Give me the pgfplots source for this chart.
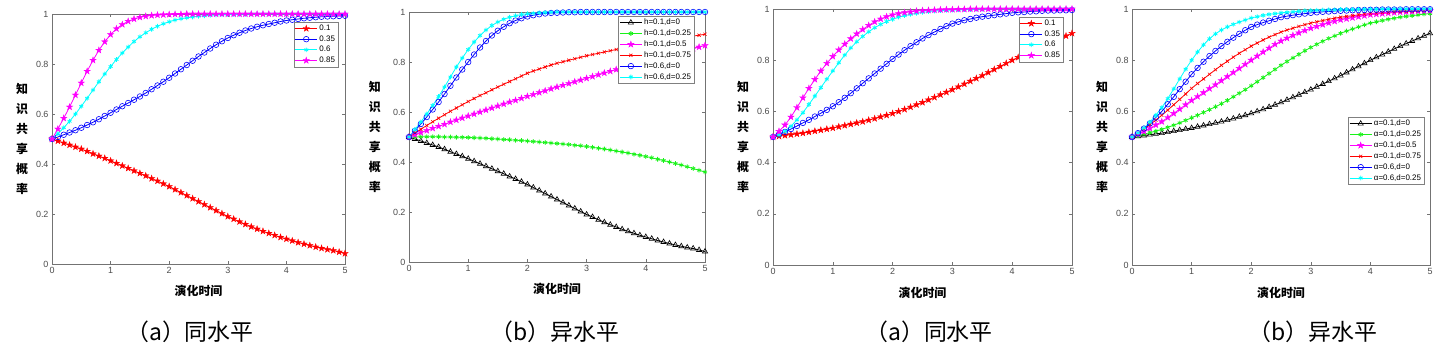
\documentclass[border=0pt]{standalone}
\usepackage{pgfplots}
\pgfplotsset{compat=1.18}
\usepackage{pgfplotstable}
\usepackage{fontspec}
\setmainfont{Liberation Sans}
\newfontfamily\cjk{Noto Sans CJK SC}
\definecolor{mred}{rgb}{1,0,0}
\definecolor{mblue}{rgb}{0,0,1}
\definecolor{mcyan}{rgb}{0,1,1}
\definecolor{mmag}{rgb}{1,0,1}
\definecolor{mgreen}{rgb}{0.1,0.95,0.1}

\pgfdeclareplotmark{pent}{%
  \pgfpathmoveto{\pgfpoint{0pt}{\pgfplotmarksize}}%
  \pgfpathlineto{\pgfpoint{-0.2245\pgfplotmarksize}{0.309\pgfplotmarksize}}%
  \pgfpathlineto{\pgfpoint{-0.951\pgfplotmarksize}{0.309\pgfplotmarksize}}%
  \pgfpathlineto{\pgfpoint{-0.363\pgfplotmarksize}{-0.118\pgfplotmarksize}}%
  \pgfpathlineto{\pgfpoint{-0.588\pgfplotmarksize}{-0.809\pgfplotmarksize}}%
  \pgfpathlineto{\pgfpoint{0pt}{-0.382\pgfplotmarksize}}%
  \pgfpathlineto{\pgfpoint{0.588\pgfplotmarksize}{-0.809\pgfplotmarksize}}%
  \pgfpathlineto{\pgfpoint{0.363\pgfplotmarksize}{-0.118\pgfplotmarksize}}%
  \pgfpathlineto{\pgfpoint{0.951\pgfplotmarksize}{0.309\pgfplotmarksize}}%
  \pgfpathlineto{\pgfpoint{0.2245\pgfplotmarksize}{0.309\pgfplotmarksize}}%
  \pgfpathclose
  \pgfusepathqfillstroke}

\pgfplotstableread{
t r b c m
0.0 .500 .500 .500 .500
0.1 .492 .508 .521 .540
0.2 .484 .517 .545 .583
0.3 .476 .526 .571 .628
0.4 .468 .535 .600 .676
0.5 .460 .545 .631 .724
0.6 .451 .556 .663 .771
0.7 .441 .567 .696 .815
0.8 .432 .579 .729 .855
0.9 .423 .592 .760 .889
1.0 .413 .605 .790 .918
1.1 .403 .618 .818 .941
1.2 .393 .631 .844 .958
1.3 .383 .644 .868 .971
1.4 .373 .657 .890 .980
1.5 .363 .670 .909 .987
1.6 .353 .684 .925 .991
1.7 .342 .699 .939 .994
1.8 .332 .714 .951 .996
1.9 .321 .729 .961 .997
2.0 .310 .745 .969 .998
2.1 .298 .762 .976 .999
2.2 .286 .779 .981 .999
2.3 .274 .796 .985 1.000
2.4 .262 .813 .988 1.000
2.5 .250 .830 .991 1.000
2.6 .238 .846 .993 1.000
2.7 .226 .862 .995 1.000
2.8 .214 .877 .996 1.000
2.9 .202 .891 .997 1.000
3.0 .190 .904 .998 1.000
3.1 .180 .915 .998 1.000
3.2 .169 .925 .999 1.000
3.3 .159 .934 .999 1.000
3.4 .149 .942 1.000 1.000
3.5 .140 .949 1.000 1.000
3.6 .131 .955 1.000 1.000
3.7 .123 .960 1.000 1.000
3.8 .115 .965 1.000 1.000
3.9 .107 .970 1.000 1.000
4.0 .100 .974 1.000 1.000
4.1 .093 .977 1.000 1.000
4.2 .086 .980 1.000 1.000
4.3 .080 .983 1.000 1.000
4.4 .074 .985 1.000 1.000
4.5 .068 .987 1.000 1.000
4.6 .063 .989 1.000 1.000
4.7 .058 .990 1.000 1.000
4.8 .054 .991 1.000 1.000
4.9 .048 .992 1.000 1.000
5.0 .042 .993 1.000 1.000
}\tabA

\pgfplotstableread{
t k g m r b c
0.0 .500 .500 .500 .500 .500 .500
0.1 .492 .500 .509 .516 .525 .530
0.2 .484 .501 .518 .531 .552 .560
0.3 .476 .501 .526 .546 .580 .592
0.4 .468 .501 .535 .561 .610 .626
0.5 .460 .501 .543 .575 .640 .662
0.6 .451 .500 .551 .589 .672 .700
0.7 .441 .500 .560 .603 .705 .740
0.8 .432 .499 .568 .616 .738 .780
0.9 .423 .499 .576 .629 .770 .816
1.0 .413 .498 .584 .642 .800 .850
1.1 .403 .497 .592 .654 .830 .880
1.2 .393 .496 .600 .666 .858 .906
1.3 .383 .495 .608 .677 .884 .928
1.4 .373 .493 .616 .689 .906 .946
1.5 .363 .492 .624 .700 .925 .960
1.6 .353 .490 .632 .711 .941 .971
1.7 .342 .489 .640 .722 .955 .979
1.8 .332 .487 .647 .733 .966 .985
1.9 .321 .486 .655 .744 .975 .990
2.0 .310 .484 .663 .755 .982 .993
2.1 .298 .482 .670 .764 .987 .995
2.2 .286 .480 .678 .772 .991 .997
2.3 .274 .478 .685 .780 .994 .998
2.4 .262 .476 .693 .788 .996 .999
2.5 .250 .474 .700 .795 .997 1.000
2.6 .238 .472 .707 .801 .998 1.000
2.7 .226 .470 .714 .807 .999 1.000
2.8 .214 .467 .721 .813 .999 1.000
2.9 .202 .465 .728 .819 1.000 1.000
3.0 .190 .462 .735 .825 1.000 1.000
3.1 .180 .459 .742 .830 1.000 1.000
3.2 .169 .455 .749 .835 1.000 1.000
3.3 .159 .452 .756 .840 1.000 1.000
3.4 .149 .448 .763 .845 1.000 1.000
3.5 .140 .444 .770 .850 1.000 1.000
3.6 .131 .440 .776 .855 1.000 1.000
3.7 .123 .436 .782 .859 1.000 1.000
3.8 .115 .431 .788 .864 1.000 1.000
3.9 .107 .427 .794 .868 1.000 1.000
4.0 .100 .422 .800 .873 1.000 1.000
4.1 .093 .417 .807 .877 1.000 1.000
4.2 .086 .411 .814 .881 1.000 1.000
4.3 .080 .406 .821 .885 1.000 1.000
4.4 .074 .400 .828 .889 1.000 1.000
4.5 .068 .394 .835 .893 1.000 1.000
4.6 .063 .388 .841 .897 1.000 1.000
4.7 .058 .381 .847 .900 1.000 1.000
4.8 .054 .374 .854 .904 1.000 1.000
4.9 .048 .367 .860 .907 1.000 1.000
5.0 .042 .360 .866 .911 1.000 1.000
}\tabB

\pgfplotstableread{
t r b c m
0.0 .500 .500 .500 .500
0.1 .503 .510 .508 .522
0.2 .506 .520 .522 .547
0.3 .509 .531 .542 .578
0.4 .512 .543 .567 .615
0.5 .515 .555 .595 .653
0.6 .519 .567 .627 .690
0.7 .523 .580 .660 .725
0.8 .527 .593 .693 .758
0.9 .531 .606 .726 .788
1.0 .535 .620 .758 .815
1.1 .540 .636 .790 .840
1.2 .545 .653 .820 .863
1.3 .550 .671 .848 .884
1.4 .555 .690 .872 .903
1.5 .560 .710 .893 .920
1.6 .566 .729 .911 .936
1.7 .572 .748 .927 .950
1.8 .579 .767 .940 .961
1.9 .585 .786 .951 .970
2.0 .592 .805 .960 .977
2.1 .600 .822 .968 .982
2.2 .608 .839 .974 .986
2.3 .617 .855 .979 .989
2.4 .626 .870 .983 .992
2.5 .635 .885 .987 .994
2.6 .645 .898 .990 .995
2.7 .655 .910 .992 .996
2.8 .665 .922 .994 .997
2.9 .675 .933 .995 .998
3.0 .685 .943 .996 .998
3.1 .696 .950 .997 .999
3.2 .707 .956 .998 .999
3.3 .718 .961 .998 1.000
3.4 .729 .966 .999 1.000
3.5 .740 .970 .999 1.000
3.6 .752 .973 1.000 1.000
3.7 .764 .976 1.000 1.000
3.8 .776 .979 1.000 1.000
3.9 .788 .982 1.000 1.000
4.0 .800 .985 1.000 1.000
4.1 .811 .987 1.000 1.000
4.2 .822 .988 1.000 1.000
4.3 .833 .990 1.000 1.000
4.4 .844 .991 1.000 1.000
4.5 .855 .993 1.000 1.000
4.6 .865 .994 1.000 1.000
4.7 .875 .994 1.000 1.000
4.8 .885 .995 1.000 1.000
4.9 .895 .995 1.000 1.000
5.0 .905 .996 1.000 1.000
}\tabC

\pgfplotstableread{
t k g m r b c
0.0 .500 .500 .500 .500 .500 .500
0.1 .503 .505 .511 .515 .515 .516
0.2 .506 .511 .522 .531 .533 .535
0.3 .509 .517 .534 .548 .553 .558
0.4 .512 .523 .547 .566 .576 .585
0.5 .515 .530 .560 .585 .600 .615
0.6 .519 .538 .576 .605 .628 .650
0.7 .523 .546 .592 .626 .657 .688
0.8 .527 .555 .609 .647 .687 .727
0.9 .531 .565 .626 .668 .716 .765
1.0 .535 .575 .643 .690 .745 .800
1.1 .540 .585 .658 .709 .770 .832
1.2 .545 .596 .673 .727 .794 .860
1.3 .550 .607 .689 .745 .816 .884
1.4 .555 .618 .704 .763 .836 .903
1.5 .560 .630 .720 .780 .855 .918
1.6 .566 .643 .736 .796 .872 .930
1.7 .572 .657 .752 .812 .888 .940
1.8 .579 .671 .768 .827 .903 .949
1.9 .585 .685 .784 .841 .917 .957
2.0 .592 .700 .800 .855 .930 .965
2.1 .600 .716 .816 .867 .939 .970
2.2 .608 .732 .832 .879 .947 .975
2.3 .617 .748 .847 .890 .954 .979
2.4 .626 .764 .862 .900 .961 .982
2.5 .635 .780 .875 .910 .968 .985
2.6 .645 .795 .886 .918 .972 .987
2.7 .655 .809 .897 .925 .976 .989
2.8 .665 .823 .907 .932 .979 .991
2.9 .675 .837 .916 .939 .982 .993
3.0 .685 .850 .925 .945 .985 .994
3.1 .696 .862 .932 .950 .987 .995
3.2 .707 .874 .939 .955 .989 .996
3.3 .718 .885 .946 .960 .990 .997
3.4 .729 .895 .952 .964 .992 .997
3.5 .740 .905 .958 .968 .993 .998
3.6 .752 .914 .962 .971 .994 .998
3.7 .764 .922 .966 .974 .995 .998
3.8 .776 .930 .970 .977 .996 .999
3.9 .788 .938 .974 .980 .996 .999
4.0 .800 .945 .978 .982 .997 .999
4.1 .811 .950 .980 .984 .997 .999
4.2 .822 .955 .982 .986 .998 1.000
4.3 .833 .960 .984 .987 .998 1.000
4.4 .844 .964 .986 .989 .998 1.000
4.5 .855 .968 .988 .990 .998 1.000
4.6 .865 .971 .989 .991 .999 1.000
4.7 .875 .974 .990 .992 .999 1.000
4.8 .885 .977 .992 .993 .999 1.000
4.9 .895 .980 .993 .994 .999 1.000
5.0 .905 .982 .994 .995 .999 1.000
}\tabD

\pgfplotsset{
  panel/.style={
    scale only axis,
    xmin=0, xmax=5, ymin=0, ymax=1,
    xtick={0,1,2,3,4,5}, ytick={0,0.2,0.4,0.6,0.8,1},
    tick align=inside, major tick length=3bp,
    axis line style={black!55}, every tick/.style={black!55},
    tick label style={font=\fontsize{9}{10}\selectfont, text=black!70},
    /pgf/number format/assume math mode=true,
    xlabel={演化时间},
    xlabel style={font=\cjk\bfseries\fontsize{12}{12}\selectfont, at={(axis description cs:0.5,-0.108)}, anchor=center},
    ylabel={知\\识\\共\\享\\概\\率},
    ylabel style={rotate=-90, align=center, font=\cjk\bfseries\fontsize{12}{20}\selectfont, anchor=center},
    legend style={font=\fontsize{8}{9}\selectfont, draw=black!50, inner sep=1bp, nodes={inner sep=1.8bp}, row sep=0bp, cells={anchor=west}},
    legend image code/.code={\draw[mark repeat=2,mark phase=2,##1] plot coordinates {(0bp,0bp)(11bp,0bp)(22bp,0bp)};},
    every axis plot/.append style={line width=0.8bp},
  },
  sred/.style={color=mred, mark=pent, mark size=3.3bp, mark options={solid, fill=mred, line width=0.4bp}},
  smag/.style={color=mmag, mark=pent, mark size=3.3bp, mark options={solid, fill=mmag, line width=0.4bp}},
  sblue/.style={color=mblue, mark=o, mark size=2.8bp, mark options={solid, line width=0.6bp}},
  scyan/.style={color=mcyan, mark=asterisk, mark size=2.3bp, mark options={solid, line width=0.8bp}},
  sgreen/.style={color=mgreen, mark=asterisk, mark size=2.3bp, mark options={solid, line width=0.8bp}},
  sblack/.style={color=black, mark=triangle, mark size=3bp, mark options={solid, line width=0.6bp}},
  sredx/.style={color=mred, mark=x, mark size=2.2bp, mark options={solid, line width=0.6bp}},
}

\begin{document}
\begin{tikzpicture}
\useasboundingbox (0bp,0bp) rectangle (1434bp,354bp);

% Panel 1
\begin{axis}[panel, at={(52bp,90bp)}, anchor=south west, width=293bp, height=250bp,
  ylabel style={at={(axis description cs:-0.102,0.5)}},
  legend style={at={(rel axis cs:0.976,0.968)}, anchor=north east}]
\addplot[sred] table[x=t,y=r]{\tabA};
\addplot[sblue] table[x=t,y=b]{\tabA};
\addplot[scyan] table[x=t,y=c]{\tabA};
\addplot[smag] table[x=t,y=m]{\tabA};
\legend{0.1,0.35,0.6,0.85}
\end{axis}

% Panel 2
\begin{axis}[panel, at={(409bp,92bp)}, anchor=south west, width=296bp, height=250bp,
  ylabel style={at={(axis description cs:-0.115,0.5)}},
  legend style={at={(rel axis cs:0.963,0.984)}, anchor=north east}]
\addplot[sblack] table[x=t,y=k]{\tabB};
\addplot[sgreen] table[x=t,y=g]{\tabB};
\addplot[smag] table[x=t,y=m]{\tabB};
\addplot[sredx] table[x=t,y=r]{\tabB};
\addplot[sblue] table[x=t,y=b]{\tabB};
\addplot[scyan] table[x=t,y=c]{\tabB};
\legend{{h=0.1,d=0},{h=0.1,d=0.25},{h=0.1,d=0.5},{h=0.1,d=0.75},{h=0.6,d=0},{h=0.6,d=0.25}}
\end{axis}

% Panel 3
\begin{axis}[panel, at={(773bp,89bp)}, anchor=south west, width=299bp, height=256bp,
  ylabel style={at={(axis description cs:-0.100,0.5)}},
  legend style={at={(rel axis cs:0.970,0.969)}, anchor=north east}]
\addplot[sred] table[x=t,y=r]{\tabC};
\addplot[sblue] table[x=t,y=b]{\tabC};
\addplot[scyan] table[x=t,y=c]{\tabC};
\addplot[smag] table[x=t,y=m]{\tabC};
\legend{0.1,0.35,0.6,0.85}
\end{axis}

% Panel 4
\begin{axis}[panel, at={(1132bp,89bp)}, anchor=south west, width=298bp, height=256bp,
  ylabel style={at={(axis description cs:-0.100,0.5)}},
  legend style={at={(rel axis cs:0.980,0.578)}, anchor=north east}]
\addplot[sblack] table[x=t,y=k]{\tabD};
\addplot[sgreen] table[x=t,y=g]{\tabD};
\addplot[smag] table[x=t,y=m]{\tabD};
\addplot[sredx] table[x=t,y=r]{\tabD};
\addplot[sblue] table[x=t,y=b]{\tabD};
\addplot[scyan] table[x=t,y=c]{\tabD};
\legend{{α=0.1,d=0},{α=0.1,d=0.25},{α=0.1,d=0.5},{α=0.1,d=0.75},{α=0.6,d=0},{α=0.6,d=0.25}}
\end{axis}

% Captions
\node[font=\cjk\fontsize{23}{23}\selectfont] at (190bp,22bp) {（a）同水平};
\node[font=\cjk\fontsize{23}{23}\selectfont] at (555bp,22bp) {（b）异水平};
\node[font=\cjk\fontsize{23}{23}\selectfont] at (929bp,22bp) {（a）同水平};
\node[font=\cjk\fontsize{23}{23}\selectfont] at (1313bp,22bp) {（b）异水平};
\end{tikzpicture}
\end{document}
